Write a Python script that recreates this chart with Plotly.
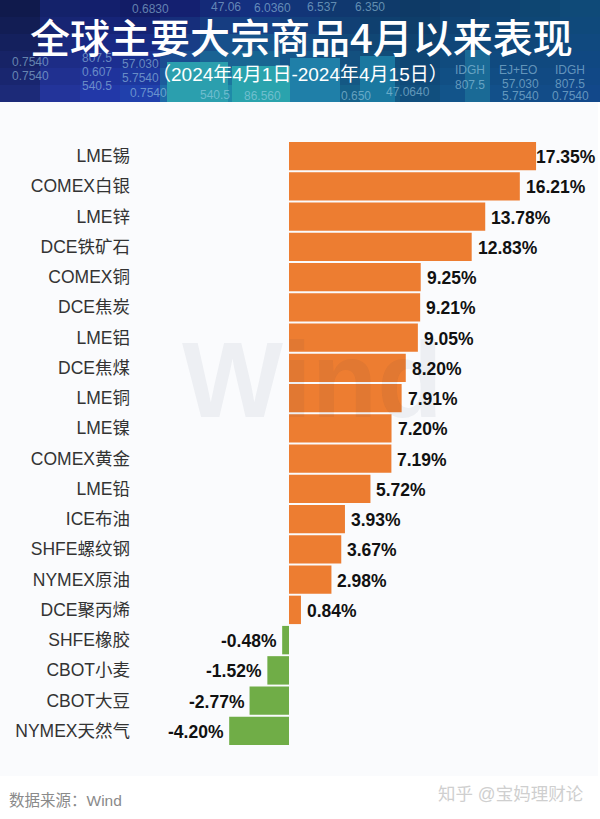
import plotly.graph_objects as go

W, H = 600, 819
FONT = "Liberation Sans, Noto Sans CJK SC"
CJK = "Noto Sans CJK SC"

# datos del grafico
categorias = ["LME锡", "COMEX白银", "LME锌", "DCE铁矿石", "COMEX铜", "DCE焦炭", "LME铝", "DCE焦煤",
              "LME铜", "LME镍", "COMEX黄金", "LME铅", "ICE布油", "SHFE螺纹钢", "NYMEX原油",
              "DCE聚丙烯", "SHFE橡胶", "CBOT小麦", "CBOT大豆", "NYMEX天然气"]
valores = [17.35, 16.21, 13.78, 12.83, 9.25, 9.21, 9.05, 8.20, 7.91, 7.20, 7.19, 5.72,
           3.93, 3.67, 2.98, 0.84, -0.48, -1.52, -2.77, -4.20]
titulo = "全球主要大宗商品4月以来表现"
subtitulo = "（2024年4月1日-2024年4月15日）"
fuente = "数据来源：Wind"
marca = "知乎 @宝妈理财论"

# colores de la foto de la cabecera (arriba / abajo)
franjas_arriba = ["#101a4c", "#14226a", "#131f6c", "#121c66", "#142070", "#142a78", "#143080", "#123578",
                  "#10386f", "#0f3a6a", "#0e3a66", "#0f3e6c", "#0e4270", "#0e4672", "#0f4a78"]
franjas_abajo = ["#1c2a78", "#23349a", "#2238a8", "#2040ac", "#1e6aa8", "#1f8aa8", "#1b8a9e", "#176f98",
                 "#15618a", "#135a84", "#114f7e", "#12548a", "#12508a", "#124c88", "#12488a"]
columnas = [(167, 62, 228, 102, "#2b9fae"), (232, 66, 290, 102, "#2aa3ad"), (290, 58, 340, 102, "#1f7fa8"),
            (360, 56, 395, 102, "#1a78a0"), (465, 50, 490, 102, "#1a6a96")]
# numeros de la foto de fondo, solo donde no tapan el titulo
numeros = [("0.6830", 150, 9), ("47.06", 226, 7), ("6.0360", 272, 8), ("6.537", 322, 7), ("6.350", 370, 7),
           ("807.5", 97, 58), ("0.607", 97, 72), ("540.5", 97, 86), ("57.030", 140, 64), ("5.7540", 140, 78),
           ("0.7540", 148, 93), ("540.5", 215, 95), ("86.560", 262, 96), ("0.650", 356, 96), ("47.0640", 408, 92),
           ("IDGH", 470, 70), ("EJ+EO", 518, 70), ("807.5", 470, 85), ("57.030", 520, 84), ("IDGH", 570, 70),
           ("807.5", 570, 84), ("0.7540", 30, 76), ("0.7540", 30, 62), ("0.7540", 570, 96), ("5.7540", 520, 96)]


def px(x):
    return x / W


def py(y):
    return 1 - y / H


def rect(x0, y0, x1, y1, color, capa="below"):
    return dict(type="rect", xref="paper", yref="paper", x0=px(x0), x1=px(x1), y0=py(y0), y1=py(y1),
                fillcolor=color, line_width=0, layer=capa)


def nota(txt, x, y, fuente_txt, ax="center"):
    return dict(text=txt, x=px(x), y=py(y), xref="paper", yref="paper", showarrow=False,
                xanchor=ax, yanchor="middle", font=fuente_txt)


def mezcla(c1, c2, t):
    a = [int(c1[i:i + 2], 16) for i in (1, 3, 5)]
    b = [int(c2[i:i + 2], 16) for i in (1, 3, 5)]
    return "rgb(%d,%d,%d)" % tuple(a[k] + (b[k] - a[k]) * t for k in range(3))


fig = go.Figure(go.Bar(
    x=valores,
    y=categorias,
    orientation="h",
    marker=dict(color=["#ED7D31" if v > 0 else "#70AD47" for v in valores], line_width=0),
    hoverinfo="skip",
))

# fondo del panel y cabecera
formas = [rect(0, 102, 598, 776, "#fafbfd")]
n = len(franjas_arriba)
filas = 6
for i in range(n):
    for f in range(filas):
        color = mezcla(franjas_arriba[i], franjas_abajo[i], f / (filas - 1))
        formas.append(rect(i * W / n, f * 102 / filas, (i + 1) * W / n, (f + 1) * 102 / filas, color))
for x0, y0, x1, y1, color in columnas:
    formas.append(rect(x0, y0, x1, y1, color))

notas = []
for txt, x, y in numeros:
    notas.append(nota(txt, x, y, dict(family=FONT, size=12, color="rgba(170,215,235,0.55)")))

# marca de agua sobre las barras
notas.append(nota("<b>Wind</b>", 312, 380, dict(family=FONT, size=107, color="rgba(20,40,70,0.055)")))

notas.append(nota(titulo, 301, 36, dict(family=CJK, size=40, color="white", weight=500)))
notas.append(nota(subtitulo, 300, 74, dict(family=FONT, size=19, color="white")))
notas.append(nota(fuente, 7, 800, dict(family=FONT, size=15.5, color="#8a8a8a"), "left"))
notas.append(nota(marca, 586, 794, dict(family=FONT, size=17.5, color="#cfcfcf"), "right"))

# etiquetas de valor
for i, v in enumerate(valores):
    sep = 4 if v > 0 else -3
    if i == 0:
        sep = -2
    notas.append(dict(text="<b>%.2f%%</b>" % v, x=v, y=categorias[i], xref="x", yref="y", showarrow=False,
                      xanchor="left" if v > 0 else "right", xshift=sep, yshift=-1,
                      font=dict(family=FONT, size=17.5, color="#111111")))

fig.update_layout(
    width=W,
    height=H,
    margin=dict(l=0, r=0, t=0, b=0),
    paper_bgcolor="white",
    plot_bgcolor="rgba(0,0,0,0)",
    showlegend=False,
    bargap=0.06,
    shapes=formas,
    annotations=notas,
    xaxis=dict(domain=[px(134), 1], range=[-10.885, 21.84], visible=False, fixedrange=True),
    yaxis=dict(domain=[py(746), py(141)], range=[19.5, -0.5], showgrid=False, zeroline=False, showline=False,
               ticks="", automargin=False, fixedrange=True, ticklabelstandoff=3,
               tickfont=dict(family=FONT, size=17.5, color="#333333")),
)

# sin el margen del body la pagina queda justa
fig.write_html("out.html", config={"displayModeBar": False},
               post_script="document.body.style.margin='0';")
